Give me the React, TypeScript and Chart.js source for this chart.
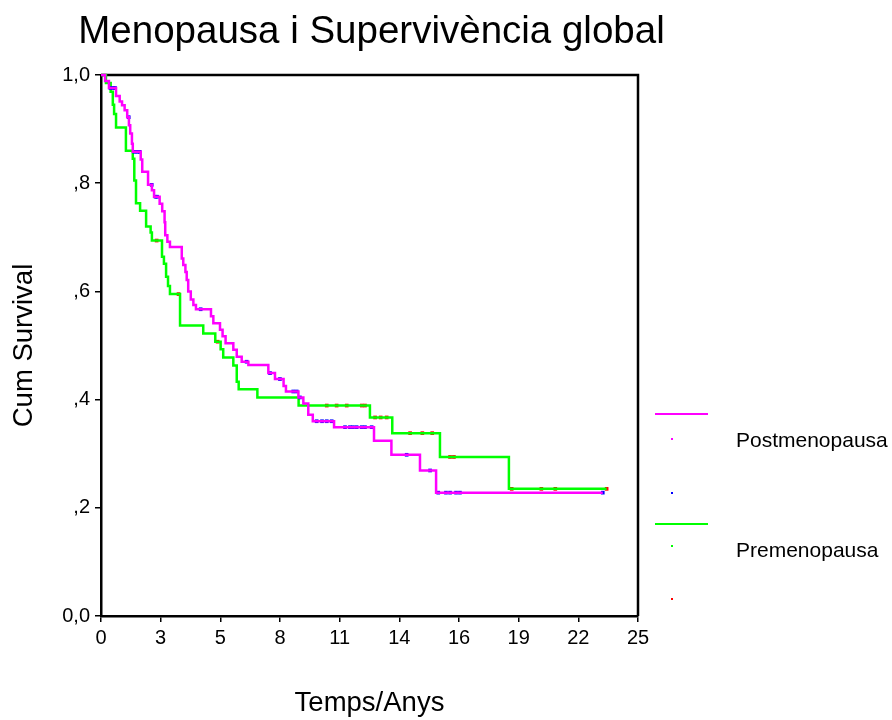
import { useEffect, useRef } from "react";
import { Chart, registerables } from "chart.js";

Chart.register(...registerables);

const FONT = '"Liberation Sans", Arial, Helvetica, sans-serif';

const chartTitle = "Menopausa i Supervivència global";
const xAxisTitle = "Temps/Anys";
const yAxisTitle = "Cum Survival";

// Axis ticks (years axis split into nine equal steps, labels rounded)
const xTickValues = [0, 2.778, 5.556, 8.333, 11.111, 13.889, 16.667, 19.444, 22.222, 25];
const xTickLabels = ["0", "3", "5", "8", "11", "14", "16", "19", "22", "25"];
const yTickValues = [0, 0.2, 0.4, 0.6, 0.8, 1];
const yTickLabels = ["0,0", ",2", ",4", ",6", ",8", "1,0"];

// Postmenopausa: event times (years) and cumulative survival after each event
const postTimes = [
  0.19, 0.37, 0.7, 0.87, 0.98, 1.1, 1.22, 1.3, 1.36, 1.44, 1.48, 1.85, 1.92, 2.19, 2.37, 2.47,
  2.73, 2.85, 2.96, 2.99, 3.09, 3.21, 3.76, 3.83, 3.93, 3.99, 4.06, 4.18, 4.3, 4.42, 5.12, 5.23,
  5.54, 5.66, 5.8, 6.16, 6.32, 6.55, 6.86, 7.79, 8.1, 8.5, 8.61, 9.19, 9.42, 9.65, 9.86, 10.85,
  12.71, 13.52, 14.85, 15.6,
];
const postSurv = [
  0.989, 0.976, 0.961, 0.951, 0.944, 0.935, 0.922, 0.907, 0.892, 0.873, 0.858, 0.844, 0.821, 0.797,
  0.787, 0.775, 0.762, 0.748, 0.728, 0.704, 0.692, 0.682, 0.661, 0.649, 0.636, 0.621, 0.6, 0.585,
  0.575, 0.567, 0.554, 0.541, 0.529, 0.517, 0.504, 0.492, 0.479, 0.47, 0.464, 0.449, 0.438, 0.425,
  0.415, 0.404, 0.393, 0.372, 0.36, 0.349, 0.324, 0.298, 0.269, 0.228,
];
const postCensored = [
  0.44, 0.56, 0.65, 1.29, 1.56, 1.7, 1.8, 2.36, 2.54, 2.61, 4.64, 6.78, 7.87, 8.33, 8.95, 9.11,
  9.26, 10.04, 10.29, 10.51, 10.74, 11.36, 11.59, 11.73, 11.9, 12.14, 12.29, 12.6, 14.23, 15.32,
  15.7, 16.06, 16.25, 16.53, 16.71, 23.36,
];
const postLastFollowUp = 23.36;

// Premenopausa
const preTimes = [
  0.23, 0.45, 0.55, 0.61, 0.7, 1.16, 1.48, 1.55, 1.63, 1.82, 2.1, 2.31, 2.37, 2.84, 2.93, 3.03,
  3.12, 3.21, 3.68, 4.76, 5.32, 5.57, 5.69, 6.16, 6.32, 6.41, 7.28, 9.2, 12.52, 13.56, 15.78, 18.99,
];
const preSurv = [
  0.985, 0.969, 0.945, 0.928, 0.903, 0.86, 0.845, 0.805, 0.763, 0.749, 0.72, 0.709, 0.694, 0.664,
  0.651, 0.627, 0.61, 0.595, 0.537, 0.522, 0.507, 0.493, 0.478, 0.463, 0.433, 0.419, 0.404, 0.389,
  0.367, 0.338, 0.294, 0.235,
];
const preCensored = [
  2.59, 3.61, 5.43, 10.51, 10.97, 11.44, 12.14, 12.29, 12.76, 13.02, 13.3, 14.39, 14.96, 15.42,
  16.25, 16.43, 19.12, 20.5, 21.15, 23.54,
];
const preLastFollowUp = 23.54;

const groups = [
  { label: "Postmenopausa", line: "#ff00ff", censor: "#0000ff", times: postTimes, surv: postSurv, censored: postCensored, last: postLastFollowUp },
  { label: "Premenopausa", line: "#00ff00", censor: "#ff0000", times: preTimes, surv: preSurv, censored: preCensored, last: preLastFollowUp },
];

function survivalAt(times: number[], surv: number[], t: number) {
  let s = 1;
  for (let i = 0; i < times.length; i++) {
    if (times[i] <= t) s = surv[i];
  }
  return s;
}

function curvePoints(times: number[], surv: number[], last: number) {
  const pts = [{ x: 0, y: 1 }];
  times.forEach((t, i) => pts.push({ x: t, y: surv[i] }));
  pts.push({ x: last, y: surv[surv.length - 1] });
  return pts;
}

const framePlugin = {
  id: "frame",
  beforeDatasetsDraw(chart: any) {
    const { ctx, chartArea: a } = chart;
    ctx.save();
    ctx.strokeStyle = "#000";
    ctx.lineWidth = 2.5;
    ctx.beginPath();
    ctx.moveTo(a.left, a.top);
    ctx.lineTo(a.right, a.top);
    ctx.lineTo(a.right, a.bottom);
    ctx.stroke();
    ctx.restore();
  },
};

const titlePlugin = {
  id: "kmTitle",
  afterDraw(chart: any) {
    const { ctx, chartArea: a } = chart;
    ctx.save();
    ctx.fillStyle = "#000";
    ctx.font = `38.5px ${FONT}`;
    ctx.textAlign = "center";
    ctx.textBaseline = "alphabetic";
    ctx.fillText(chartTitle, (a.left + a.right) / 2 + 2, 43);
    ctx.restore();
  },
};

const legendPlugin = {
  id: "kmLegend",
  afterDraw(chart: any) {
    const { ctx, chartArea: a } = chart;
    const x0 = a.right + 17;
    const x1 = a.right + 70;
    const dotX = a.right + 34;
    const textX = a.right + 98;
    const rows = [
      { lineY: 414, dotY: 439, textY: 441, censorY: 493 },
      { lineY: 524, dotY: 546, textY: 551, censorY: 599 },
    ];
    ctx.save();
    groups.forEach((g, i) => {
      const r = rows[i];
      ctx.strokeStyle = g.line;
      ctx.lineWidth = 2;
      ctx.beginPath();
      ctx.moveTo(x0, r.lineY);
      ctx.lineTo(x1, r.lineY);
      ctx.stroke();
      ctx.fillStyle = g.line;
      ctx.fillRect(dotX - 1, r.dotY - 1, 2, 2);
      ctx.fillStyle = g.censor;
      ctx.fillRect(dotX - 1, r.censorY - 1, 2, 2);
      ctx.fillStyle = "#000";
      ctx.font = `21px ${FONT}`;
      ctx.textAlign = "left";
      ctx.textBaseline = "middle";
      ctx.fillText(g.label, textX, r.textY);
    });
    ctx.restore();
  },
};

export default function App() {
  const canvasRef = useRef<HTMLCanvasElement | null>(null);

  useEffect(() => {
    document.body.style.margin = "0";
    const canvas = canvasRef.current;
    if (!canvas) return;

    const datasets: any[] = [];
    groups.forEach((g) => {
      datasets.push({
        type: "line",
        label: g.label,
        data: curvePoints(g.times, g.surv, g.last),
        borderColor: g.line,
        backgroundColor: g.line,
        borderWidth: 2.5,
        stepped: true,
        pointRadius: 0,
        fill: false,
        clip: 3,
      });
      datasets.push({
        type: "scatter",
        label: g.label + " censored",
        data: g.censored.map((t) => ({ x: t, y: survivalAt(g.times, g.surv, t) })),
        pointStyle: "rect",
        pointRadius: 2.6,
        pointBorderWidth: 0,
        borderColor: g.censor,
        backgroundColor: g.censor,
        showLine: false,
      });
    });

    const tickFont = { family: FONT, size: 20 };
    const titleFont = { family: FONT, size: 27.5 };

    const chart = new Chart(canvas, {
      type: "line",
      data: { datasets },
      plugins: [framePlugin, titlePlugin, legendPlugin],
      options: {
        animation: false,
        responsive: false,
        devicePixelRatio: 1,
        layout: { padding: { top: 75, right: 254, left: 0, bottom: 0 } },
        plugins: { legend: { display: false }, tooltip: { enabled: false }, title: { display: false } },
        scales: {
          x: {
            type: "linear",
            min: 0,
            max: 25,
            afterBuildTicks: (s: any) => {
              s.ticks = xTickValues.map((v) => ({ value: v }));
            },
            afterFit: (s: any) => {
              s.height = 104;
            },
            ticks: {
              callback: (_v: any, i: number) => xTickLabels[i],
              autoSkip: false,
              maxRotation: 0,
              color: "#000",
              font: tickFont,
              padding: 4,
            },
            grid: { display: true, drawOnChartArea: false, drawTicks: true, tickLength: 6, color: "#000", lineWidth: 1.5 },
            border: { display: true, color: "#000", width: 2.5 },
            title: { display: true, text: xAxisTitle, color: "#000", font: titleFont, padding: { top: 0, bottom: 0 } },
          },
          y: {
            type: "linear",
            min: 0,
            max: 1,
            afterBuildTicks: (s: any) => {
              s.ticks = yTickValues.map((v) => ({ value: v }));
            },
            afterFit: (s: any) => {
              s.width = 101;
            },
            ticks: {
              callback: (_v: any, i: number) => yTickLabels[i],
              color: "#000",
              font: tickFont,
              padding: 5,
            },
            grid: { display: true, drawOnChartArea: false, drawTicks: true, tickLength: 6, color: "#000", lineWidth: 1.5 },
            border: { display: true, color: "#000", width: 2.5 },
            title: { display: true, text: yAxisTitle, color: "#000", font: titleFont, padding: { top: 8, bottom: 0 } },
          },
        },
      } as any,
    });

    return () => chart.destroy();
  }, []);

  return <canvas ref={canvasRef} width={892} height={720} style={{ display: "block" }} />;
}
